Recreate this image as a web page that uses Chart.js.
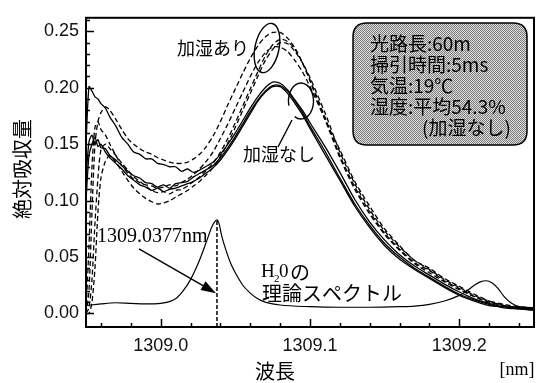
<!DOCTYPE html>
<html><head><meta charset="utf-8">
<script src="https://cdn.jsdelivr.net/npm/chart.js@4"></script>
<style>html,body{margin:0;padding:0;background:#fff}#wrap{width:536px;height:383px}</style>
</head><body><div id="wrap"><canvas id="c" width="536" height="383"></canvas></div>
<script>
// ---- data ----
const WAVELENGTH = [1308.950,1308.952,1308.954,1308.956,1308.958,1308.960,1308.963,1308.966,1308.970,1308.974,1308.978,1308.982,1308.986,1308.990,1308.994,1308.998,1309.002,1309.006,1309.010,1309.014,1309.018,1309.022,1309.026,1309.030,1309.035,1309.040,1309.045,1309.050,1309.055,1309.060,1309.065,1309.070,1309.075,1309.080,1309.085,1309.090,1309.095,1309.100,1309.110,1309.120,1309.130,1309.140,1309.150,1309.160,1309.170,1309.180,1309.190,1309.200,1309.210,1309.220,1309.230,1309.240,1309.250];
// 加湿なし (solid)
const DRY_1 = [0.150,0.201,0.197,0.192,0.190,0.186, 0.182,0.174,0.166,0.156,0.150,0.143,0.141,0.137,0.137,0.133, 0.132,0.130,0.130,0.126,0.128,0.125,0.127,0.130, 0.134,0.141,0.150,0.160,0.171,0.182,0.192,0.200,0.205,0.204,0.198,0.189,0.180,0.169, 0.148,0.125,0.101,0.081,0.065,0.052,0.042,0.034,0.026,0.019, 0.013,0.009,0.006,0.005,0.004];
const DRY_2 = [0.120,0.152,0.158,0.150,0.154,0.147, 0.146,0.140,0.136,0.131,0.126,0.122,0.120,0.116,0.115,0.112, 0.114,0.111,0.115,0.116,0.117,0.121,0.124,0.127, 0.131,0.138,0.147,0.157,0.168,0.179,0.189,0.197,0.202,0.202,0.197,0.188,0.178,0.166, 0.144,0.120,0.097,0.078,0.062,0.050,0.040,0.032,0.024,0.017, 0.012,0.008,0.005,0.004,0.003];
const DRY_3 = [0.100,0.140,0.150,0.156,0.148,0.150, 0.143,0.138,0.133,0.128,0.122,0.118,0.114,0.112,0.109,0.111, 0.108,0.110,0.111,0.113,0.115,0.117,0.120,0.124, 0.129,0.136,0.145,0.155,0.166,0.177,0.188,0.196,0.201,0.201,0.195,0.186,0.176,0.164, 0.141,0.118,0.095,0.076,0.060,0.048,0.039,0.031,0.023,0.016, 0.011,0.007,0.006,0.004,0.003];
// 加湿あり (dashed)
const WET_1 = [0.000,0.020,0.090,0.150,0.170,0.178, 0.183,0.180,0.172,0.163,0.155,0.150,0.146,0.143,0.141,0.138, 0.136,0.134,0.133,0.133,0.134,0.137,0.141,0.147, 0.157,0.170,0.185,0.199,0.213,0.226,0.237,0.245,0.249,0.249,0.244,0.235,0.222,0.206, 0.172,0.145,0.117,0.095,0.075,0.060,0.047,0.040,0.031,0.024, 0.017,0.011,0.007,0.005,0.004];
const WET_2 = [0.000,0.005,0.030,0.080,0.120,0.145, 0.150,0.146,0.140,0.133,0.127,0.121,0.117,0.113,0.109,0.107, 0.108,0.106,0.109,0.110,0.113,0.117,0.121,0.126, 0.133,0.143,0.155,0.169,0.184,0.199,0.214,0.228,0.238,0.243,0.241,0.234,0.222,0.207, 0.174,0.140,0.112,0.090,0.071,0.057,0.045,0.038,0.029,0.022, 0.015,0.010,0.007,0.005,0.004];
const WET_3 = [0.000,0.000,0.010,0.040,0.090,0.120, 0.135,0.140,0.134,0.126,0.118,0.111,0.106,0.102,0.099,0.097, 0.098,0.100,0.103,0.106,0.109,0.113,0.117,0.122, 0.129,0.139,0.151,0.165,0.180,0.195,0.210,0.224,0.234,0.240,0.239,0.232,0.222,0.209, 0.178,0.143,0.115,0.092,0.073,0.059,0.047,0.039,0.030,0.023, 0.016,0.011,0.008,0.006,0.005];
const WET_4 = [0.000,0.060,0.130,0.165,0.170,0.163, 0.158,0.150,0.140,0.131,0.124,0.119,0.116,0.114,0.113,0.111, 0.112,0.114,0.113,0.116,0.119,0.123,0.128,0.134, 0.143,0.155,0.168,0.182,0.196,0.210,0.222,0.231,0.236,0.236,0.232,0.224,0.214,0.201, 0.172,0.138,0.110,0.088,0.070,0.056,0.044,0.036,0.028,0.021, 0.015,0.010,0.007,0.005,0.004];
// H2O theoretical spectrum
const THEORY_X = [1308.950,1308.960,1308.970,1308.980,1308.990,1309.000,1309.010,1309.015,1309.020,1309.025,1309.028,1309.031,1309.034,1309.036,1309.0377,1309.039,1309.041,1309.044,1309.047,1309.050,1309.055,1309.060,1309.065,1309.070,1309.080,1309.100,1309.120,1309.140,1309.160,1309.170,1309.180,1309.190,1309.200,1309.205,1309.210,1309.214,1309.218,1309.222,1309.226,1309.230,1309.235,1309.240,1309.250];
const THEORY_Y = [0.007,0.0085,0.0095,0.009,0.0085,0.009,0.013,0.020,0.030,0.044,0.054,0.065,0.076,0.081,0.083,0.080,0.068,0.055,0.044,0.036,0.025,0.018,0.013,0.010,0.0075,0.006,0.0055,0.0055,0.006,0.0065,0.008,0.011,0.016,0.020,0.025,0.028,0.029,0.027,0.022,0.015,0.009,0.006,0.005];
const PEAK_NM = 1309.0377;
const PEAK_TOP = 0.083;
const X_TICKS = [1309.0, 1309.1, 1309.2];
const Y_TICKS = [0.00, 0.05, 0.10, 0.15, 0.20, 0.25];
const X_RANGE = [1308.95, 1309.25];
const Y_RANGE = [-0.012, 0.262];
const INFO_LINES = ['光路長:60m', '掃引時間:5ms', '気温:19℃', '湿度:平均54.3%', '(加湿なし)'];

const CJK = '"Noto Sans CJK JP"';
const toXY = (xs, ys) => xs.map((x, i) => ({x, y: ys[i]}));
const solid = d => ({data: toXY(WAVELENGTH, d), borderColor:'#000', borderWidth:1.3, pointRadius:0, tension:0.25, fill:false});
const dashed = d => ({data: toXY(WAVELENGTH, d), borderColor:'#000', borderWidth:1.3, borderDash:[5,3], pointRadius:0, tension:0.25, fill:false});

const decor = {
  id: 'decor',
  beforeDraw(chart) {
    const c = chart.ctx; c.save(); c.fillStyle = '#fff'; c.fillRect(0, 0, chart.width, chart.height); c.restore();
  },
  afterDatasetsDraw(chart) {
    const ctx = chart.ctx, a = chart.chartArea, xs = chart.scales.x, ys = chart.scales.y;
    ctx.save();
    ctx.strokeStyle = '#000'; ctx.fillStyle = '#000';
    // inner ticks
    ctx.lineWidth = 1.5;
    for (let k = 0; k <= 14; k++) {
      const v = 1308.96 + k * 0.02;
      const major = Math.abs(Math.round(v * 10) - v * 10) < 1e-6;
      const px = Math.round(xs.getPixelForValue(v)) + 0.5;
      ctx.beginPath(); ctx.moveTo(px, a.bottom); ctx.lineTo(px, a.bottom - (major ? 8 : 4)); ctx.stroke();
    }
    for (let k = 0; k <= 26; k++) {
      const v = k * 0.01;
      const major = k % 5 === 0;
      const py = Math.round(ys.getPixelForValue(v)) + 0.5;
      ctx.beginPath(); ctx.moveTo(a.left, py); ctx.lineTo(a.left + (major ? 8 : 4), py); ctx.stroke();
    }
    // frame
    ctx.lineWidth = 2;
    ctx.strokeRect(a.left, a.top, a.right - a.left, a.bottom - a.top);

    // axis titles
    ctx.textBaseline = 'middle';
    ctx.textAlign = 'center';
    ctx.font = '20px ' + CJK;
    ctx.save(); ctx.translate(22, 169); ctx.rotate(-Math.PI / 2); ctx.fillText('絶対吸収量', 0, 0); ctx.restore();
    ctx.fillText('波長', 275, 371);
    ctx.font = '18px "Liberation Serif"';
    ctx.fillText('[nm]', 517, 370);

    // annotations
    ctx.textAlign = 'left';
    ctx.font = '18px ' + CJK;
    ctx.fillText('加湿あり', 177, 48);
    ctx.fillText('加湿なし', 243, 154);
    ctx.lineWidth = 1.4;
    ctx.beginPath(); ctx.ellipse(267, 48, 12, 25, 12 * Math.PI / 180, 0, 2 * Math.PI); ctx.stroke();
    ctx.beginPath(); ctx.ellipse(301, 101, 12.5, 18, 0, 165 * Math.PI / 180, (120 + 360) * Math.PI / 180); ctx.stroke();
    ctx.beginPath(); ctx.moveTo(278, 147); ctx.lineTo(292, 120); ctx.stroke();

    ctx.font = '20px "Liberation Serif"';
    ctx.fillText('1309.0377nm', 97, 237);
    // arrow to the dashed line
    const x0 = xs.getPixelForValue(1308.9855), y0 = ys.getPixelForValue(0.0573);
    const x1 = xs.getPixelForValue(PEAK_NM) - 1, y1 = ys.getPixelForValue(0.018);
    const ang = Math.atan2(y1 - y0, x1 - x0), L = 15, W = 5;
    ctx.lineWidth = 1.4;
    ctx.beginPath(); ctx.moveTo(x0, y0); ctx.lineTo(x1 - L * Math.cos(ang), y1 - L * Math.sin(ang)); ctx.stroke();
    ctx.beginPath();
    ctx.moveTo(x1, y1);
    ctx.lineTo(x1 - L * Math.cos(ang) + W * Math.sin(ang), y1 - L * Math.sin(ang) - W * Math.cos(ang));
    ctx.lineTo(x1 - L * Math.cos(ang) - W * Math.sin(ang), y1 - L * Math.sin(ang) + W * Math.cos(ang));
    ctx.closePath(); ctx.fill();

    // H2O label
    ctx.font = '19px "Liberation Serif"';
    ctx.fillText('H', 261, 272);
    ctx.font = '11px "Liberation Serif"';
    ctx.fillText('2', 274, 279);
    ctx.font = '19px "Liberation Serif"';
    ctx.fillText('0', 279, 272);
    ctx.font = '20px ' + CJK;
    ctx.fillText('の', 290, 272);
    ctx.fillText('理論スペクトル', 262, 293);

    // info box
    const pc = document.createElement('canvas'); pc.width = 2; pc.height = 2;
    const pq = pc.getContext('2d');
    pq.fillStyle = '#dedede'; pq.fillRect(0, 0, 2, 2);
    pq.fillStyle = '#7c7c7c'; pq.fillRect(0, 0, 1, 1); pq.fillRect(1, 1, 1, 1);
    const pat = ctx.createPattern(pc, 'repeat');
    const bx = 353, by = 23, bw = 174, bh = 122, r = 14;
    ctx.beginPath();
    ctx.moveTo(bx + r, by); ctx.lineTo(bx + bw - r, by); ctx.quadraticCurveTo(bx + bw, by, bx + bw, by + r);
    ctx.lineTo(bx + bw, by + bh - r); ctx.quadraticCurveTo(bx + bw, by + bh, bx + bw - r, by + bh);
    ctx.lineTo(bx + r, by + bh); ctx.quadraticCurveTo(bx, by + bh, bx, by + bh - r);
    ctx.lineTo(bx, by + r); ctx.quadraticCurveTo(bx, by, bx + r, by); ctx.closePath();
    ctx.fillStyle = pat; ctx.fill();
    ctx.lineWidth = 1.5; ctx.strokeStyle = '#000'; ctx.stroke();
    ctx.fillStyle = '#000';
    ctx.font = '19px ' + CJK;
    const lineY = [44, 65, 86, 107, 128];
    INFO_LINES.forEach((t, i) => ctx.fillText(t, i === 4 ? 422 : 370, lineY[i]));
    ctx.restore();
  }
};

new Chart(document.getElementById('c'), {
  type: 'line',
  data: {
    datasets: [
      solid(DRY_1), solid(DRY_2), solid(DRY_3),
      dashed(WET_1), dashed(WET_2), dashed(WET_3), dashed(WET_4),
      {data: toXY(THEORY_X, THEORY_Y), borderColor:'#000', borderWidth:1.2, pointRadius:0, cubicInterpolationMode:'monotone', fill:false},
      {data: [{x: PEAK_NM, y: Y_RANGE[0]}, {x: PEAK_NM, y: PEAK_TOP}], borderColor:'#000', borderWidth:1.5, borderDash:[4,2], pointRadius:0, fill:false}
    ]
  },
  options: {
    responsive: false, animation: false, devicePixelRatio: 1,
    layout: {padding: {top: 11, right: 2, left: 0, bottom: 0}},
    plugins: {legend: {display: false}, tooltip: {enabled: false}},
    scales: {
      x: {
        type: 'linear', min: X_RANGE[0], max: X_RANGE[1],
        grid: {display: false, drawTicks: false}, border: {display: false},
        afterBuildTicks: s => { s.ticks = X_TICKS.map(v => ({value: v})); },
        afterFit: s => { s.height = 56; },
        ticks: {padding: 8, color: '#111', font: {family: 'Liberation Sans', size: 18}, callback: v => Number(v).toFixed(1), maxRotation: 0, autoSkip: false}
      },
      y: {
        type: 'linear', min: Y_RANGE[0], max: Y_RANGE[1],
        grid: {display: false, drawTicks: false}, border: {display: false},
        afterBuildTicks: s => { s.ticks = Y_TICKS.map(v => ({value: v})); },
        afterFit: s => { s.width = 86; },
        ticks: {padding: 7, color: '#111', font: {family: 'Liberation Sans', size: 18}, callback: v => Number(v).toFixed(2)}
      }
    }
  },
  plugins: [decor]
});
</script>
</body></html>
